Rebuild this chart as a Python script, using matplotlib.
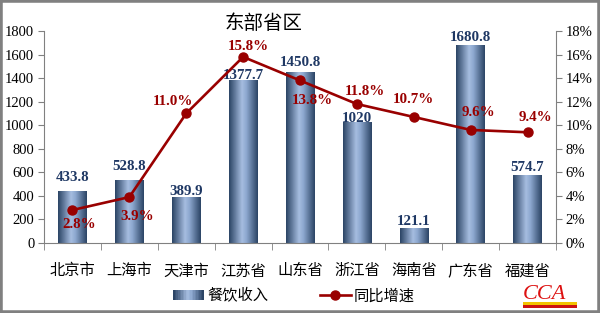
import matplotlib
matplotlib.use('Agg')
import matplotlib.pyplot as plt
import numpy as np
from matplotlib.patches import Rectangle
from matplotlib.legend_handler import HandlerBase
from matplotlib.lines import Line2D
from matplotlib.colors import LinearSegmentedColormap

# data
provinces = ['北京市', '上海市', '天津市', '江苏省', '山东省', '浙江省', '海南省', '广东省', '福建省']
revenue = [433.8, 528.8, 389.9, 1377.7, 1450.8, 1020, 121.1, 1680.8, 574.7]
growth = [2.8, 3.9, 11.0, 15.8, 13.8, 11.8, 10.7, 9.6, 9.4]
bar_label_text = ['433.8', '528.8', '389.9', '1377.7', '1450.8', '1020', '121.1', '1680.8', '574.7']

# label placement (pixels)
bar_lbl_dy = [14, 14, 6, 5, 10, 4, 7, 8, 8]
pct_lbl_off = [(7, -14), (8, -19), (-13, 12), (5, 10), (12, -20),
               (8, 13), (0, 17), (8, 17), (8, 15)]

CJK = ['Noto Sans CJK SC', 'DejaVu Sans']
SERIF = 'Liberation Serif'
LINE_C = '#990000'
BAR_TXT = '#1f3864'
GRAY = '#808080'

grad_cmap = LinearSegmentedColormap.from_list(
    'bar', [(0, '#2c4566'), (0.45, '#a6bde0'), (0.6, '#8ea9d0'), (1, '#2c4566')])

fig = plt.figure(figsize=(6, 3.13), dpi=100)
ax = fig.add_axes([0.0733, 0.2236, 0.8534, 0.6774])
ax2 = ax.twinx()

x = np.arange(len(provinces))
width = 0.5
bars = ax.bar(x, revenue, width=width, color='none', zorder=2)
grad = np.linspace(0, 1, 64).reshape(1, -1)
for b in bars:
    x0 = b.get_x()
    ax.imshow(grad, cmap=grad_cmap, aspect='auto', zorder=2,
              extent=[x0, x0 + b.get_width(), 0, b.get_height()])

ax.set_xlim(-0.5, len(provinces) - 0.5)
ax.set_ylim(0, 1800)
ax.set_yticks(np.arange(0, 1801, 200))
ax.set_xticks(x)
ax.set_xticklabels(provinces, family=CJK, fontsize=11)
ax.set_xticks(np.arange(-0.5, len(provinces)), minor=True)
ax.tick_params(axis='x', which='major', length=0, pad=14)
ax.tick_params(axis='x', which='minor', length=5, color=GRAY, direction='out')
ax.tick_params(axis='y', length=4, color=GRAY, labelsize=10.5, pad=3)
for lab in ax.get_yticklabels():
    lab.set_family(SERIF)

for xi, v, t, dy in zip(x, revenue, bar_label_text, bar_lbl_dy):
    ax.annotate(t, (xi, v), xytext=(0, dy), textcoords='offset pixels',
                ha='center', va='center', family=SERIF, fontweight='bold',
                fontsize=10.8, color=BAR_TXT, zorder=5)

ax2.plot(x, growth, color=LINE_C, lw=1.9, marker='o', markersize=6.5, zorder=4)
ax2.set_ylim(0, 18)
ax2.set_yticks(np.arange(0, 19, 2))
ax2.set_yticklabels(['%d%%' % v for v in range(0, 19, 2)], family=SERIF)
ax2.tick_params(axis='y', length=4, color=GRAY, labelsize=10.5, pad=3)
for xi, g, off in zip(x, growth, pct_lbl_off):
    ax2.annotate('%.1f%%' % g, (xi, g), xytext=off, textcoords='offset pixels',
                 ha='center', va='center', family=SERIF, fontweight='bold',
                 fontsize=10.8, color=LINE_C, zorder=6)

for a in (ax, ax2):
    a.spines['top'].set_visible(False)
    for s in ('left', 'right', 'bottom'):
        a.spines[s].set_color(GRAY)
ax.spines['right'].set_visible(False)
ax2.spines['left'].set_visible(False)
ax2.spines['bottom'].set_visible(False)

fig.text(0.44, 0.925, '东部省区', family=CJK, fontsize=14, ha='center', va='center')


class GradHandler(HandlerBase):
    def create_artists(self, legend, orig, xd, yd, w, h, fs, trans):
        n = 20
        arts = []
        for i in range(n):
            r = Rectangle((xd + w * i / n, yd), w / n + 0.3, h,
                          facecolor=grad_cmap(i / (n - 1)), edgecolor='none',
                          transform=trans)
            arts.append(r)
        return arts


bar_handle = Rectangle((0, 0), 1, 1)
line_handle = Line2D([], [], color=LINE_C, lw=1.9, marker='o', markersize=6.5)
fig.legend([bar_handle, line_handle], ['餐饮收入', '同比增速'],
           handler_map={Rectangle: GradHandler()},
           loc='center', bbox_to_anchor=(0.49, 0.055), ncol=2, frameon=False,
           prop={'family': CJK, 'size': 11}, handlelength=2.0, handletextpad=0.2,
           columnspacing=3.4)

# logo
fig.text(0.872, 0.045, 'CCA', color='#dd1111', fontsize=16, family=SERIF,
         fontstyle='italic', ha='left', va='baseline')
fig.patches.append(Rectangle((0.872, 0.026), 0.09, 0.01, transform=fig.transFigure,
                             facecolor='#f2c200', edgecolor='none'))
fig.patches.append(Rectangle((0.872, 0.017), 0.09, 0.009, transform=fig.transFigure,
                             facecolor='#cc1111', edgecolor='none'))

fig.patches.append(Rectangle((0, 0), 1, 1, transform=fig.transFigure, fill=False,
                             edgecolor=GRAY, lw=4))

fig.savefig('out.png', dpi=100)
